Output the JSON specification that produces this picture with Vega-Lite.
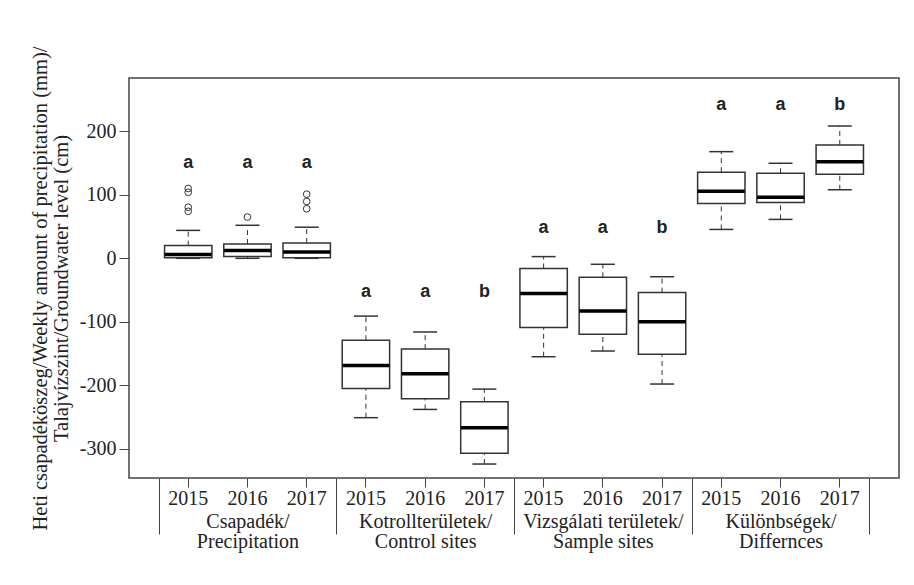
{
  "$schema": "https://vega.github.io/schema/vega-lite/v6.json",
  "width": 770,
  "height": 400,
  "autosize": "none",
  "padding": {"left": 129, "top": 78, "right": 15, "bottom": 107},
  "background": "white",
  "datasets": {
    "boxes": [
      {"group": "Csapadék/ Precipitation", "box": "Csapadék 2015", "year": "2015", "lower": 0, "q1": 1, "median": 6, "q3": 20, "upper": 44, "letter": "a", "letter_y": 143},
      {"group": "Csapadék/ Precipitation", "box": "Csapadék 2016", "year": "2016", "lower": 0, "q1": 3, "median": 12.5, "q3": 22.5, "upper": 52, "letter": "a", "letter_y": 143},
      {"group": "Csapadék/ Precipitation", "box": "Csapadék 2017", "year": "2017", "lower": 0, "q1": 1, "median": 10, "q3": 24, "upper": 49, "letter": "a", "letter_y": 143},
      {"group": "Kotrollterületek/ Control sites", "box": "Kontroll 2015", "year": "2015", "lower": -251, "q1": -205, "median": -169, "q3": -129, "upper": -91, "letter": "a", "letter_y": -61},
      {"group": "Kotrollterületek/ Control sites", "box": "Kontroll 2016", "year": "2016", "lower": -238, "q1": -221, "median": -182, "q3": -143, "upper": -116, "letter": "a", "letter_y": -61},
      {"group": "Kotrollterületek/ Control sites", "box": "Kontroll 2017", "year": "2017", "lower": -324, "q1": -307, "median": -267, "q3": -226, "upper": -206, "letter": "b", "letter_y": -61},
      {"group": "Vizsgálati területek/ Sample sites", "box": "Vizsgálati 2015", "year": "2015", "lower": -155, "q1": -109, "median": -55.5, "q3": -16, "upper": 2.7, "letter": "a", "letter_y": 40},
      {"group": "Vizsgálati területek/ Sample sites", "box": "Vizsgálati 2016", "year": "2016", "lower": -146, "q1": -119.5, "median": -83, "q3": -30, "upper": -9.4, "letter": "a", "letter_y": 40},
      {"group": "Vizsgálati területek/ Sample sites", "box": "Vizsgálati 2017", "year": "2017", "lower": -198, "q1": -151, "median": -100, "q3": -54, "upper": -29, "letter": "b", "letter_y": 40},
      {"group": "Különbségek/ Differnces", "box": "Különbség 2015", "year": "2015", "lower": 45.5, "q1": 86.4, "median": 105.7, "q3": 135.6, "upper": 168, "letter": "a", "letter_y": 234},
      {"group": "Különbségek/ Differnces", "box": "Különbség 2016", "year": "2016", "lower": 61.3, "q1": 88, "median": 96.3, "q3": 134, "upper": 149.7, "letter": "a", "letter_y": 234},
      {"group": "Különbségek/ Differnces", "box": "Különbség 2017", "year": "2017", "lower": 108, "q1": 132.4, "median": 151.9, "q3": 178.6, "upper": 208.4, "letter": "b", "letter_y": 234}
    ],
    "outliers": [
      {"box": "Csapadék 2015", "value": 110},
      {"box": "Csapadék 2015", "value": 104},
      {"box": "Csapadék 2015", "value": 80.5},
      {"box": "Csapadék 2015", "value": 74},
      {"box": "Csapadék 2016", "value": 65},
      {"box": "Csapadék 2017", "value": 101},
      {"box": "Csapadék 2017", "value": 89.5},
      {"box": "Csapadék 2017", "value": 78}
    ]
  },
  "layer": [
    {
      "data": {"name": "boxes"},
      "encoding": {
        "x": {
          "field": "box",
          "type": "nominal",
          "sort": null,
          "scale": {"paddingInner": 0, "paddingOuter": 0.5},
          "axis": {
            "title": null,
            "labelExpr": "slice(datum.label, -4)",
            "labelAngle": 0,
            "labelFont": "Liberation Serif",
            "labelFontSize": 20,
            "labelColor": "#222",
            "labelPadding": 1,
            "labelOverlap": false,
            "tickSize": 9,
            "tickColor": "#444",
            "tickWidth": 1,
            "domain": false,
            "grid": false
          }
        }
      },
      "layer": [
        {
          "mark": {"type": "rule", "color": "#333", "strokeWidth": 1, "strokeDash": [5, 4]},
          "encoding": {
            "y": {
              "field": "lower",
              "type": "quantitative",
              "scale": {"domain": [-346, 284], "nice": false, "zero": false},
              "axis": {
                "values": [-300, -200, -100, 0, 100, 200],
                "labelExpr": "toString(datum.value)",
                "labelFont": "Liberation Serif",
                "labelFontSize": 20,
                "labelColor": "#222",
                "labelPadding": 3,
                "tickSize": 10,
                "tickColor": "#444",
                "domain": false,
                "grid": false,
                "title": ["Heti csapadéköszeg/Weekly amount of precipitation (mm)/", "Talajvízszint/Groundwater level (cm)"],
                "titleFont": "Liberation Serif",
                "titleFontSize": 20.5,
                "titleFontWeight": "normal",
                "titleColor": "#222",
                "titleLineHeight": 21,
                "titleAngle": -90,
                "titleAlign": "center",
                "titleBaseline": "bottom",
                "titleX": -79,
                "titleY": 210
              }
            },
            "y2": {"field": "q1"}
          }
        },
        {
          "mark": {"type": "rule", "color": "#333", "strokeWidth": 1, "strokeDash": [5, 4]},
          "encoding": {
            "y": {"field": "q3", "type": "quantitative"},
            "y2": {"field": "upper"}
          }
        },
        {
          "mark": {"type": "tick", "color": "#333", "size": 24, "thickness": 1.5, "opacity": 1},
          "encoding": {"y": {"field": "lower", "type": "quantitative"}}
        },
        {
          "mark": {"type": "tick", "color": "#333", "size": 24, "thickness": 1.5, "opacity": 1},
          "encoding": {"y": {"field": "upper", "type": "quantitative"}}
        },
        {
          "mark": {"type": "bar", "width": {"band": 0.8}, "fill": "white", "stroke": "#333", "strokeWidth": 1.5, "opacity": 1},
          "encoding": {
            "y": {"field": "q1", "type": "quantitative"},
            "y2": {"field": "q3"}
          }
        },
        {
          "mark": {"type": "tick", "color": "#000", "size": 47, "thickness": 3.5, "opacity": 1},
          "encoding": {"y": {"field": "median", "type": "quantitative"}}
        },
        {
          "data": {"name": "outliers"},
          "mark": {"type": "point", "shape": "circle", "filled": false, "color": "#333", "size": 45, "strokeWidth": 1, "opacity": 1},
          "encoding": {"y": {"field": "value", "type": "quantitative"}}
        },
        {
          "mark": {"type": "text", "font": "Liberation Sans", "fontSize": 18, "fontWeight": "bold", "color": "#222", "baseline": "alphabetic"},
          "encoding": {
            "y": {"field": "letter_y", "type": "quantitative"},
            "text": {"field": "letter"}
          }
        }
      ]
    },
    {
      "data": {"name": "boxes"},
      "mark": {"type": "text", "text": ""},
      "encoding": {
        "x": {
          "field": "group",
          "type": "nominal",
          "sort": null,
          "scale": {"paddingInner": 0, "paddingOuter": 0.16667},
          "axis": {
            "orient": "bottom",
            "title": null,
            "tickBand": "extent",
            "tickSize": 56,
            "tickColor": "#444",
            "tickWidth": 1,
            "domain": false,
            "grid": false,
            "labelAngle": 0,
            "labelExpr": "datum.label ? [split(datum.label, '/ ')[0] + '/', split(datum.label, '/ ')[1]] : ''",
            "labelFont": "Liberation Serif",
            "labelFontSize": 20,
            "labelLineHeight": 20,
            "labelColor": "#222",
            "labelPadding": -23,
            "labelOverlap": false,
            "labelBaseline": "top"
          }
        }
      }
    }
  ],
  "resolve": {"scale": {"x": "independent"}, "axis": {"x": "independent"}},
  "config": {
    "view": {"stroke": "#444", "strokeWidth": 1.5}
  }
}
